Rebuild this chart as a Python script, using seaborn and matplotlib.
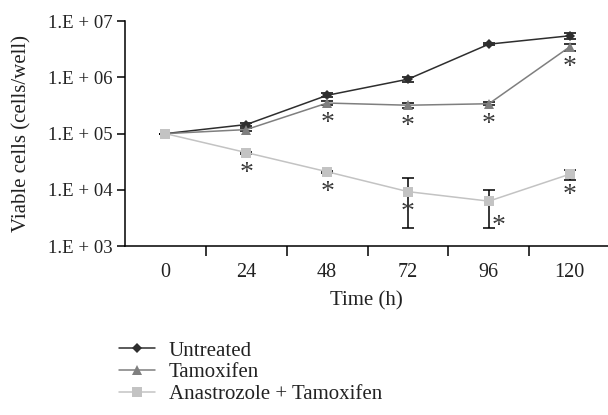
import numpy as np
import pandas as pd
import matplotlib
matplotlib.use("Agg")
import matplotlib.pyplot as plt
import seaborn as sns

# ---- data ----
hours = ["0", "24", "48", "72", "96", "120"]
untreated = [1.0e5, 1.45e5, 4.8e5, 9.3e5, 3.9e6, 5.5e6]
untreated_err = [0, 8e3, 4e4, 9e4, 2e5, 6e5]
tamoxifen = [1.0e5, 1.18e5, 3.5e5, 3.2e5, 3.4e5, 3.5e6]
tamoxifen_err = [0, 6e3, 3e4, 3e4, 2e4, 5e5]
combo = [1.0e5, 4.6e4, 2.1e4, 9.3e3, 6.3e3, 1.9e4]
combo_err_low = [0, 2e3, 1e3, 7.2e3, 4.2e3, 4e3]
combo_err_high = [0, 2e3, 1e3, 6.7e3, 3.7e3, 4e3]
series_names = ["Untreated", "Tamoxifen", "Anastrozole + Tamoxifen"]
ytick_vals = [1e3, 1e4, 1e5, 1e6, 1e7]
ytick_labels = ["1.E + 03", "1.E + 04", "1.E + 05", "1.E + 06", "1.E + 07"]
# significance marks (index of time point)
sig_tam = [2, 3, 4, 5]
sig_combo = [1, 2, 3, 4, 5]

sns.set_style("ticks")
plt.rcParams["font.family"] = ["Liberation Serif", "DejaVu Serif"]

fig = plt.figure(figsize=(6.08, 4.15), dpi=100)
ax = fig.add_axes([0.2056, 0.407, 0.794, 0.542])

x = np.arange(len(hours))
df = pd.DataFrame({
    "x": np.concatenate([x, x, x]),
    "y": untreated + tamoxifen + combo,
    "series": [series_names[0]] * 6 + [series_names[1]] * 6 + [series_names[2]] * 6,
})
colors = {series_names[0]: "#2e2e2e", series_names[1]: "#7f7f7f", series_names[2]: "#c3c3c3"}
markers = {series_names[0]: "D", series_names[1]: "^", series_names[2]: "s"}
msizes = {series_names[0]: 5, series_names[1]: 7, series_names[2]: 7}

ebkw = dict(fmt="none", ecolor="black", elinewidth=1.1, capsize=4.5, capthick=1.1, zorder=2)
ax.errorbar(x, untreated, yerr=untreated_err, **ebkw)
ax.errorbar(x, tamoxifen, yerr=tamoxifen_err, **ebkw)
ax.errorbar(x, combo, yerr=[combo_err_low, combo_err_high], **ebkw)

for name in series_names:
    sub = df[df["series"] == name]
    sns.lineplot(data=sub, x="x", y="y", ax=ax, color=colors[name], marker=markers[name],
                 markersize=msizes[name], markeredgewidth=0, linewidth=1.1, label=name, zorder=3)

ax.set_yscale("log")
ax.set_ylim(1e3, 1e7)
ax.set_xlim(-0.5, 5.47)
ax.set_yticks(ytick_vals)
ax.set_yticklabels(ytick_labels)
ax.minorticks_off()
ax.set_xticks(x)
ax.set_xticklabels(hours)
ax.set_xticks(x[:-1] + 0.5, minor=True)
ax.tick_params(axis="x", which="major", length=0, pad=12, labelsize=14.5, labelcolor="#222222")
ax.tick_params(axis="x", which="minor", length=7, width=1.1, direction="out", color="black")
ax.tick_params(axis="y", which="major", length=6, width=1.1, direction="out", labelsize=13.5, pad=3, color="black", labelcolor="#222222")
for s in ["top", "right"]:
    ax.spines[s].set_visible(False)
for s in ["left", "bottom"]:
    ax.spines[s].set_linewidth(1.1)
    ax.spines[s].set_color("black")

ax.set_xlabel("Time (h)", fontsize=15, color="#222222", labelpad=7)
ax.set_ylabel("Viable cells (cells/well)", fontsize=15, color="#222222", labelpad=12)

# asterisks
for i in sig_tam:
    ax.annotate("*", (x[i], tamoxifen[i]), xytext=(0, -15), textcoords="offset points",
                ha="center", va="center", fontsize=20, color="#3a3a3a")
for i in sig_combo:
    dx = 7 if i == 4 else 0
    dy = -18 if i == 4 else -15
    ax.annotate("*", (x[i], combo[i]), xytext=(dx, dy), textcoords="offset points",
                ha="center", va="center", fontsize=20, color="#3a3a3a")

leg = ax.legend(loc="upper left", bbox_to_anchor=(-0.03, -0.385), frameon=False,
                fontsize=15, handlelength=1.75, handletextpad=0.65, labelspacing=0.1,
                borderaxespad=0)
for t in leg.get_texts():
    t.set_color("#222222")

fig.savefig("out.png", dpi=100)
